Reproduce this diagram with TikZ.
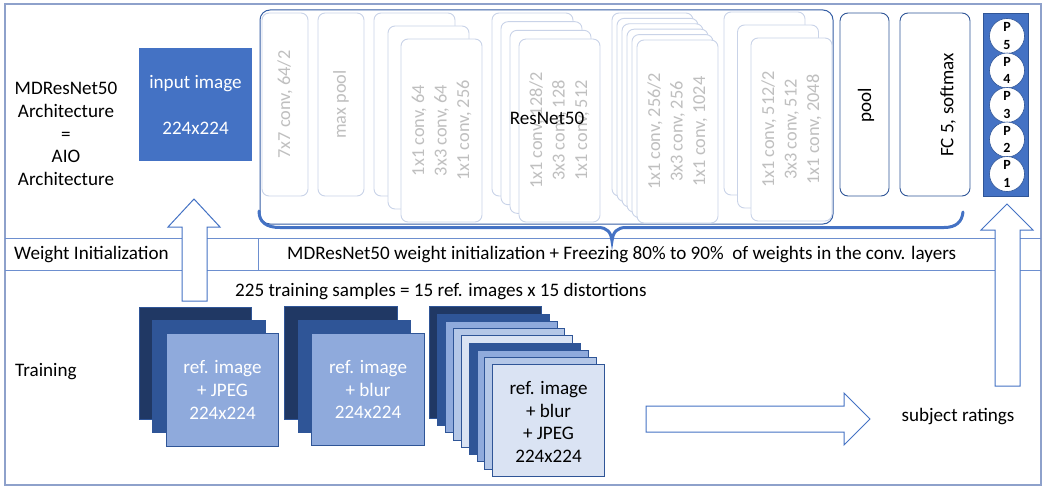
\documentclass[tikz,border=0pt]{standalone}
\usepackage{fontspec}
\setmainfont{Carlito}
\definecolor{navy}{HTML}{203864}
\definecolor{mblue}{HTML}{2F5597}
\definecolor{accent}{HTML}{4472C4}
\definecolor{lblue}{HTML}{8FAADC}
\definecolor{llblue}{HTML}{B4C7E7}
\definecolor{pblue}{HTML}{DAE3F3}
\definecolor{gtxt}{HTML}{BFBFBF}
\definecolor{gedge}{HTML}{C9D3E8}
\definecolor{frameC}{HTML}{8EA1CB}
\definecolor{rowC}{HTML}{6D8FCF}
\tikzset{
  txt/.style={font=\fontsize{19.1}{22.8}\selectfont, inner sep=0pt, align=center},
  graybox/.style={draw=gedge, fill=white, line width=0.9pt, rounded corners=7pt, minimum height=183pt, inner sep=0pt},
  graytxt/.style={font=\fontsize{18.3}{22.5}\selectfont, inner sep=0pt, align=center, text=gtxt, rotate=90},
  darkbox/.style={draw=mblue, fill=white, line width=0.9pt, rounded corners=8pt, minimum height=183pt, inner sep=0pt},
  imgbox/.style={draw=mblue, line width=0.8pt, minimum size=112.5pt, inner sep=0pt},
  blockarrow/.style={draw=accent, fill=white, line width=1pt, line join=miter},
  rowline/.style={draw=rowC, line width=0.9pt},
  pcirc/.style={circle, draw=mblue, fill=white, line width=0.6pt, minimum size=35pt, inner sep=0pt, align=center, font=\fontsize{14}{17.5}\selectfont\bfseries},
}
\begin{document}
\begin{tikzpicture}[x=1pt,y=-1pt]
\useasboundingbox (0,0) rectangle (1043,487);
% outer frame and rows
\draw[frameC, line width=1.5pt] (5,4) rectangle (1041,485);
\draw[rowline] (5,238) -- (1041,238);
\draw[rowline] (5,270) -- (1041,270);
\draw[rowline] (258,238) -- (258,270);

% left labels
\node[txt] (archlbl) at (66,134) {MDResNet50\\Architecture\\=\\AIO\\Architecture};
\node[txt, anchor=west] (wilbl) at (14,255) {Weight Initialization};
\node[txt, anchor=west] (witxt) at (287,255) {MDResNet50 weight initialization + Freezing 80\% to 90\%\ \ of weights in the conv. layers};
\node[txt, anchor=west] (trlbl) at (15,372) {Training};
\node[txt, anchor=west] (samples) at (235,292) {225 training samples = 15 ref. images x 15 distortions};

% input image
\node[fill=accent, minimum size=113pt, inner sep=0pt] (inimg) at (195.5,104.5) {};
\node[txt, text=white] (inimgt) at (195.5,105) {input image\\[22.7pt]224x224};

% ResNet50 block
\node[draw=mblue!70!accent, line width=1pt, rounded corners=10pt, minimum width=573pt, minimum height=214pt, inner sep=0pt] (resnet) at (546.5,117) {};
\draw[accent, line width=3pt, line cap=round] (259,211) .. controls (259,222) and (266,227.5) .. (280,227.5) -- (598,227.5) .. controls (607,227.5) and (611,232) .. (612,241) .. controls (613,232) and (617,227.5) .. (626,227.5) -- (944,227.5) .. controls (956,227.5) and (962,222) .. (963,212);

\node[graybox, minimum width=46pt] (g1) at (285,104.5) {};
\node[graybox, minimum width=46pt] (g2) at (341,104.5) {};
\foreach \i/\x/\y in {1/414.5/104.5, 2/428.5/117.5, 3/441.5/130.5}
  \node[graybox, minimum width=81pt] (g3-\i) at (\x,\y) {};
\foreach \i in {0,...,3}
  \node[graybox, minimum width=81pt] (g4-\i) at ({532.5+9*\i},{104.5+8.67*\i}) {};
\foreach \i in {0,...,5}
  \node[graybox, minimum width=81pt] (g5-\i) at ({652.5+5*\i},{104.5+5.4*\i}) {};
\foreach \i/\x/\y in {0/764.5/103.5, 1/778/116.5, 2/791.5/129.5}
  \node[graybox, minimum width=81pt] (g6-\i) at (\x,\y) {};

\node[graytxt] (t1) at (g1) {7x7 conv, 64/2};
\node[graytxt] (t2) at (g2) {max pool};
\node[graytxt] (t3) at (g3-3) {1x1 conv, 64\\3x3 conv, 64\\1x1 conv, 256};
\node[graytxt] (t4) at (g4-3) {1x1 conv, 128/2\\3x3 conv, 128\\1x1 conv, 512};
\node[graytxt] (t5) at (g5-5) {1x1 conv, 256/2\\3x3 conv, 256\\1x1 conv, 1024};
\node[graytxt] (t6) at (g6-2) {1x1 conv, 512/2\\3x3 conv, 512\\1x1 conv, 2048};
\node[txt] (rnlbl) at (547,118) {ResNet50};

% pool, FC, output
\node[darkbox, minimum width=49pt] (pool) at (864.5,104.5) {};
\node[txt, rotate=90] (poolt) at (866,105) {pool};
\node[darkbox, minimum width=70pt] (fc) at (935,104.5) {};
\node[txt, rotate=90] (fct) at (948,105) {FC 5, softmax};
\node[draw=mblue, fill=accent, line width=0.8pt, minimum width=45pt, minimum height=183pt, inner sep=0pt] (out) at (1005.5,104.5) {};
\foreach \k/\y in {5/36, 4/70.5, 3/105, 2/139.5, 1/174}
  \node[pcirc] (p\k) at (1007,\y) {P\\\k};

% training images
\foreach \i/\x/\y/\c in {1/195.5/363.5/navy, 2/209/376.5/mblue, 3/222.5/390/lblue}
  \node[imgbox, fill=\c] (a\i) at (\x,\y) {};
\node[txt, text=white] (at) at (a3) {ref. image\\+ JPEG\\224x224};
\foreach \i/\x/\y/\c in {1/341/363/navy, 2/354.5/376.5/mblue, 3/368/389.5/lblue}
  \node[imgbox, fill=\c] (b\i) at (\x,\y) {};
\node[txt, text=white] (bt) at (b3) {ref. image\\+ blur\\224x224};
\foreach \c [count=\i from 0] in {navy,mblue,lblue,llblue,pblue,mblue,lblue,llblue,pblue}
  \node[imgbox, minimum size=111.5pt, fill=\c] (c\i) at ({485.5+7.875*\i},{362.5+7.25*\i}) {};
\node[txt] (ct) at (548.5,422) {ref. image\\+ blur\\+ JPEG\\224x224};

\node[txt] (ratings) at (958,417) {subject ratings};

% block arrows
\draw[blockarrow] (182,301) -- (182,227) -- (168,227) -- (194,199) -- (220,227) -- (207,227) -- (207,301) -- cycle;
\draw[blockarrow] (995,386) -- (995,230) -- (981,230) -- (1007,204) -- (1033,230) -- (1020,230) -- (1020,386) -- cycle;
\draw[blockarrow] (646,406) -- (844,406) -- (844,393) -- (870,419) -- (844,445) -- (844,432) -- (646,432) -- cycle;
\end{tikzpicture}
\end{document}
